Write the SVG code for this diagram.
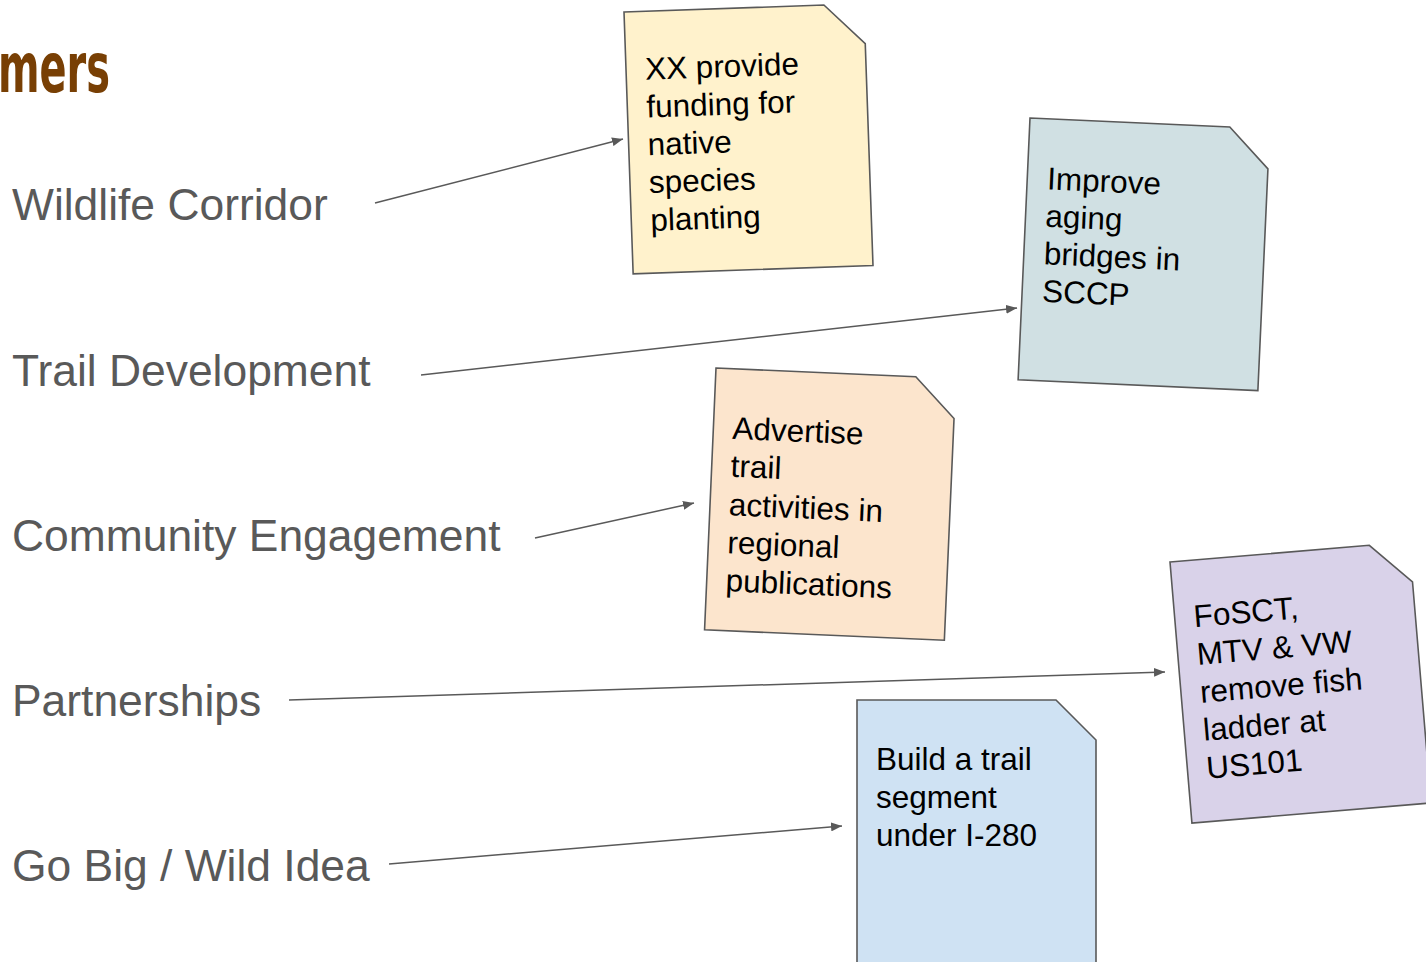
<svg xmlns="http://www.w3.org/2000/svg" width="1426" height="962" viewBox="0 0 1426 962">
<defs>
<style>
.lbl{font-family:"Liberation Sans",Arial,sans-serif;font-size:44.4px;fill:#595959}
.note{stroke:#595959;stroke-width:1.6}
.nt{font-family:"Liberation Sans",Arial,sans-serif;font-size:31.5px;fill:#000}
.conn{stroke:#595959;stroke-width:1.5;fill:none;marker-end:url(#ah)}
.title{font-family:"DejaVu Sans Condensed","Liberation Sans",sans-serif;font-weight:bold;font-size:69px;fill:#783f04}
</style>
<marker id="ah" markerUnits="userSpaceOnUse" markerWidth="12" markerHeight="9" refX="11" refY="4.5" orient="auto">
<path d="M0,0 L11,4.5 L0,9 z" fill="#595959"/>
</marker>
<path id="doc" d="M0,0 L200,0 L240,40 L240,262 L0,262 Z"/>
</defs>
<rect width="1426" height="962" fill="#ffffff"/>
<text class="title" x="-2" y="92" textLength="112" lengthAdjust="spacingAndGlyphs">mers</text>
<g id="labels">
<text class="lbl" x="12" y="220">Wildlife Corridor</text>
<text class="lbl" x="12" y="386">Trail Development</text>
<text class="lbl" x="12" y="551">Community Engagement</text>
<text class="lbl" x="12" y="716">Partnerships</text>
<text class="lbl" x="12" y="881">Go Big / Wild Idea</text>
</g>
<g id="connectors">
<line class="conn" x1="375" y1="203" x2="623" y2="139"/>
<line class="conn" x1="421" y1="375" x2="1017" y2="308"/>
<line class="conn" x1="535" y1="538" x2="694" y2="503"/>
<line class="conn" x1="289" y1="700" x2="1165" y2="672"/>
<line class="conn" x1="389" y1="864" x2="842" y2="826"/>
</g>
<g id="note1" transform="translate(624,12) rotate(-2)">
<use href="#doc" class="note" fill="#fff2cc"/>
<text class="nt"><tspan x="19" y="68.5">XX provide</tspan><tspan x="19" y="106.3">funding for</tspan><tspan x="19" y="144.1">native</tspan><tspan x="19" y="181.9">species</tspan><tspan x="19" y="219.7">planting</tspan></text>
</g>
<g id="note2" transform="translate(1030,118) rotate(2.6)">
<use href="#doc" class="note" fill="#d0e0e3"/>
<text class="nt"><tspan x="20" y="70.5">Improve</tspan><tspan x="20" y="108">aging</tspan><tspan x="20" y="145.5">bridges in</tspan><tspan x="20" y="183">SCCP</tspan></text>
</g>
<g id="note3" transform="translate(716,368) rotate(2.5)">
<use href="#doc" class="note" fill="#fce5cd"/>
<text class="nt"><tspan x="19" y="70">Advertise</tspan><tspan x="19" y="108">trail</tspan><tspan x="19" y="146.5">activities in</tspan><tspan x="19" y="184.5">regional</tspan><tspan x="19" y="222.5">publications</tspan></text>
</g>
<g id="note4" transform="translate(1170,562) rotate(-4.8)">
<use href="#doc" class="note" fill="#d9d2e9"/>
<text class="nt"><tspan x="19" y="67">FoSCT,</tspan><tspan x="19" y="105">MTV &amp; VW</tspan><tspan x="19" y="143">remove fish</tspan><tspan x="19" y="181">ladder at</tspan><tspan x="19" y="219">US101</tspan></text>
</g>
<g id="note5" transform="translate(857,700)">
<path d="M0,0 L199,0 L239,40 L239,300 L0,300 Z" class="note" fill="#cfe2f3"/>
<text class="nt"><tspan x="19" y="70">Build a trail</tspan><tspan x="19" y="108">segment</tspan><tspan x="19" y="146">under I-280</tspan></text>
</g>
</svg>
